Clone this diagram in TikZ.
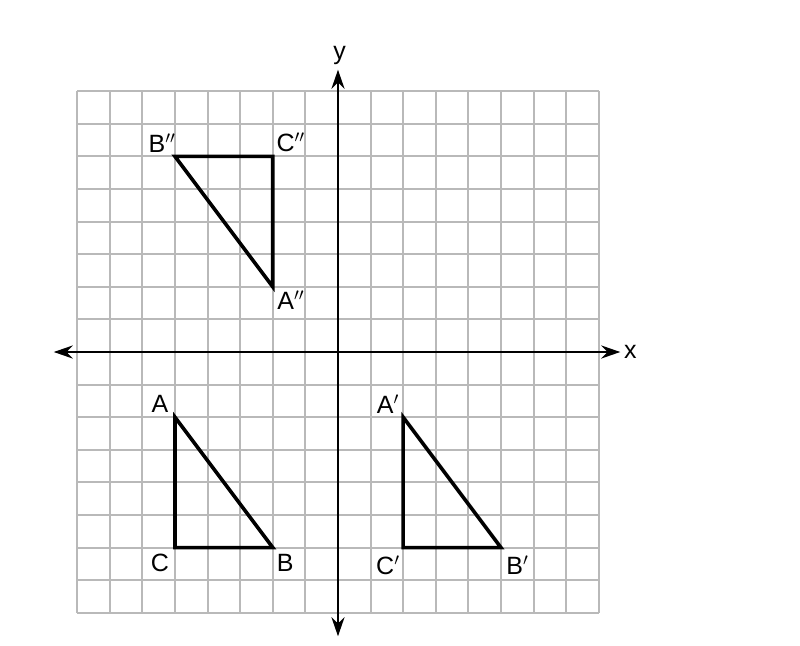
\documentclass[tikz,border=0pt]{standalone}
\usepackage{fontspec}
\setmainfont{Liberation Sans}
\usetikzlibrary{arrows.meta}
\begin{document}
\begin{tikzpicture}[x=32.6pt,y=32.6pt,
  gridline/.style={draw={rgb,255:red,185;green,185;blue,185},line width=2pt},
  axis/.style={line width=2.6pt,{Stealth[length=19pt,width=13pt]}-{Stealth[length=19pt,width=13pt]}},
  tri/.style={line width=3.6pt,line join=miter},
  lbl/.style={font=\fontsize{25}{30}\selectfont,inner sep=0pt}]
\useasboundingbox (-10.368,-9.018) rectangle (14.172,10.798);
\foreach \i in {-8,...,8} {
  \draw[gridline] (\i,-8) -- (\i,8);
  \draw[gridline] (-8,\i) -- (8,\i);
}
\coordinate (xl) at (-8.72,0);
\coordinate (xr) at (8.66,0);
\coordinate (yb) at (0,-8.72);
\coordinate (yt) at (0,8.66);
\draw[axis] (xl) -- (xr);
\draw[axis] (yb) -- (yt);
\node[lbl] (xlab) at (8.97,0) {x};
\node[lbl] (ylab) at (0.05,9.1) {y};
% ABC
\coordinate (A) at (-5,-2);
\coordinate (B) at (-2,-6);
\coordinate (C) at (-5,-6);
\draw[tri] (A) -- (B) -- (C) -- cycle;
% A'B'C'
\coordinate (A1) at (2,-2);
\coordinate (B1) at (5,-6);
\coordinate (C1) at (2,-6);
\draw[tri] (A1) -- (B1) -- (C1) -- cycle;
% A''B''C''
\coordinate (A2) at (-2,2);
\coordinate (B2) at (-5,6);
\coordinate (C2) at (-2,6);
\draw[tri] (A2) -- (B2) -- (C2) -- cycle;
\node[lbl] (lA) at (-5.46,-1.6) {A};
\node[lbl] (lB) at (-1.62,-6.47) {B};
\node[lbl] (lC) at (-5.46,-6.47) {C};
\node[lbl] (lA1) at (1.53,-1.6) {A$'$};
\node[lbl] (lB1) at (5.5,-6.55) {B$'$};
\node[lbl] (lC1) at (1.53,-6.55) {C$'$};
\node[lbl] (lA2) at (-1.45,1.6) {A$''$};
\node[lbl] (lB2) at (-5.4,6.42) {B$''$};
\node[lbl] (lC2) at (-1.45,6.42) {C$''$};
\end{tikzpicture}
\end{document}
